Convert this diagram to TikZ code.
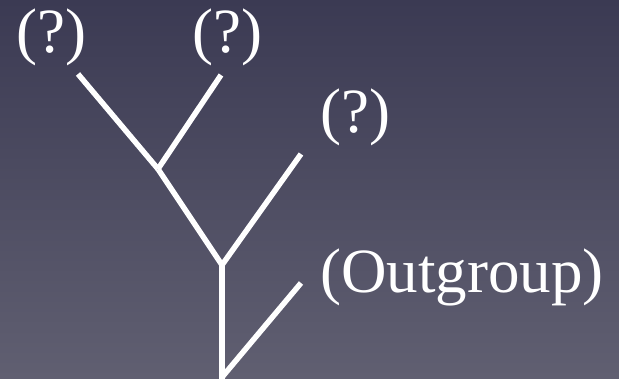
\documentclass[tikz,border=0pt]{standalone}
\usepackage{fontspec}
\setmainfont{Liberation Serif}
\begin{document}
\begin{tikzpicture}[x=1pt,y=-1pt,
  branch/.style={draw=white,line width=5.5pt,line cap=butt},
  taxon/.style={text=white,inner sep=0pt,anchor=base west,font=\fontsize{63}{63}\selectfont}]
\definecolor{bgtop}{RGB}{59,58,83}
\definecolor{bgbot}{RGB}{96,95,113}
\shade[top color=bgtop,bottom color=bgbot] (0,0) rectangle (619,378);
\useasboundingbox (0,0) rectangle (619,378);
\coordinate (a) at (78,74);
\coordinate (b) at (221,75);
\coordinate (c) at (301,154);
\coordinate (d) at (301,283);
\coordinate (j1) at (158,169);
\coordinate (j2) at (222,265);
\coordinate (r) at (223,376);
\coordinate (rb) at (222,382);
\node[taxon] (la) at (16,52) {(?)};
\node[taxon] (lb) at (192,52) {(?)};
\node[taxon] (lc) at (320,132) {(?)};
\node[taxon] (ld) at (320,292) {(Outgroup)};
\draw[branch] (a) -- (j1);
\draw[branch] (b) -- (j1);
\draw[branch] (j1) -- (j2);
\draw[branch] (c) -- (j2);
\draw[branch] (j2) -- (rb);
\draw[branch] (d) -- (r);
\end{tikzpicture}
\end{document}
